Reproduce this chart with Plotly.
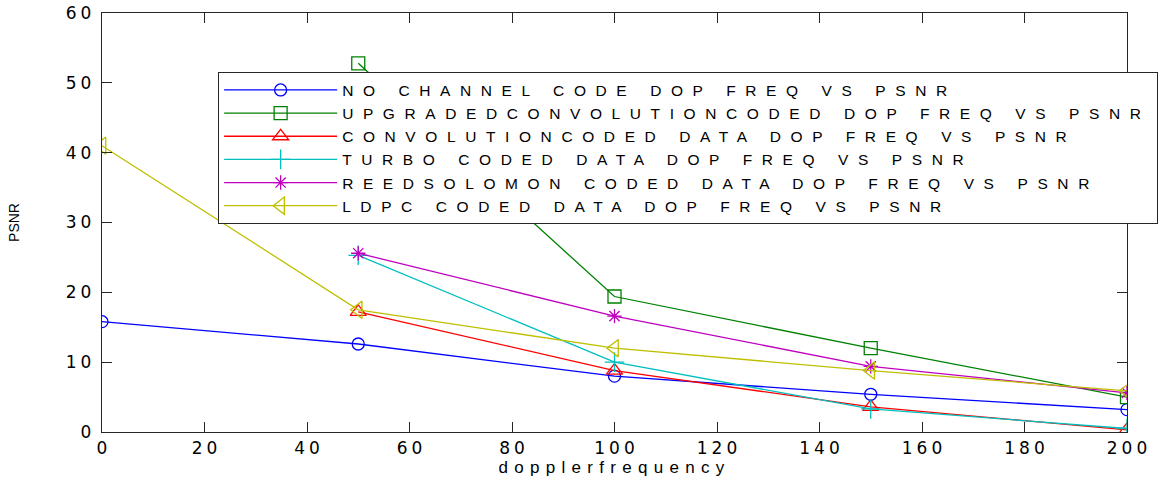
import plotly.graph_objects as go

doppler = [0, 50, 100, 150, 200]
no_channel = [15.8, 12.6, 8.0, 5.4, 3.2]
upgraded_conv = [None, 52.8, 19.4, 12.0, 5.0]
conv = [None, 17.2, 8.8, 3.6, 0.3]
turbo = [None, 25.3, 10.0, 3.3, 0.5]
reed_solomon = [None, 25.6, 16.6, 9.4, 5.6]
ldpc = [41.0, 17.5, 12.0, 8.8, 5.9]

names = [
    "NO CHANNEL CODE DOP FREQ VS PSNR",
    "UPGRADEDCONVOLUTIONCODED DOP FREQ VS PSNR",
    "CONVOLUTIONCODED DATA DOP FREQ VS PSNR",
    "TURBO CODED DATA DOP FREQ VS PSNR",
    "REEDSOLOMON CODED DATA DOP FREQ VS PSNR",
    "LDPC CODED DATA DOP FREQ VS PSNR",
]
x_ticks = [0, 20, 40, 60, 80, 100, 120, 140, 160, 180, 200]
y_ticks = [0, 10, 20, 30, 40, 50, 60]
x_title = "dopplerfrequency"
y_title = "PSNR"

series = [no_channel, upgraded_conv, conv, turbo, reed_solomon, ldpc]
colors = ["#0000FF", "#008000", "#FF0000", "#00BFBF", "#BF00BF", "#BFBF00"]
symbols = ["circle-open", "square-open", "triangle-up-open", "cross-thin-open",
           "asterisk-open", "triangle-left-open"]
sizes = [12, 13, 14, 14, 12, 15]


def spaced(t, ls):
    return f'<span style="letter-spacing:{ls}px">{t}</span>'


fig = go.Figure()
for name, ys, c, s, sz in zip(names, series, colors, symbols, sizes):
    xs = [x for x, y in zip(doppler, ys) if y is not None]
    yv = [y for y in ys if y is not None]
    fig.add_trace(go.Scatter(
        x=xs, y=yv, mode="lines+markers", name=spaced(name, 9.6),
        line=dict(color=c, width=1.3),
        marker=dict(symbol=s, size=sz, color=c, line=dict(color=c, width=1.3)),
    ))

axis_common = dict(
    showgrid=False, zeroline=False, showline=True, linecolor="#262626",
    linewidth=1.3, mirror="ticks", ticks="inside", ticklen=10,
    tickcolor="#262626", tickwidth=1.3, automargin=False,
    tickfont=dict(family="DejaVu Sans", size=17, color="black"),
)

fig.update_layout(
    width=1163, height=481,
    margin=dict(l=102, r=36, t=13, b=49, autoexpand=False),
    paper_bgcolor="white", plot_bgcolor="white",
    xaxis=dict(range=[0, 200], tickvals=x_ticks,
               ticktext=[spaced(str(v), 4) for v in x_ticks],
               ticklabelstandoff=0, ticklabelshift=2,
               title=dict(text=spaced(x_title, 6.3),
                          font=dict(family="Liberation Sans", size=17, color="black"),
                          standoff=1),
               **axis_common),
    yaxis=dict(range=[0, 60], tickvals=y_ticks,
               ticktext=[spaced(str(v), 4) for v in y_ticks],
               ticklabelstandoff=2,
               title=dict(text=y_title,
                          font=dict(family="Liberation Sans", size=14, color="black"),
                          standoff=42),
               **axis_common),
    legend=dict(
        x=0.113, y=0.859, xanchor="left", yanchor="top",
        bgcolor="white", bordercolor="#262626", borderwidth=1.3,
        font=dict(family="Liberation Sans", size=15.5, color="black"),
        itemwidth=113, tracegroupgap=0,
    ),
    showlegend=True,
)

fig.write_html("out.html", config={"displayModeBar": False},
               post_script="document.body.style.margin='0px';")
